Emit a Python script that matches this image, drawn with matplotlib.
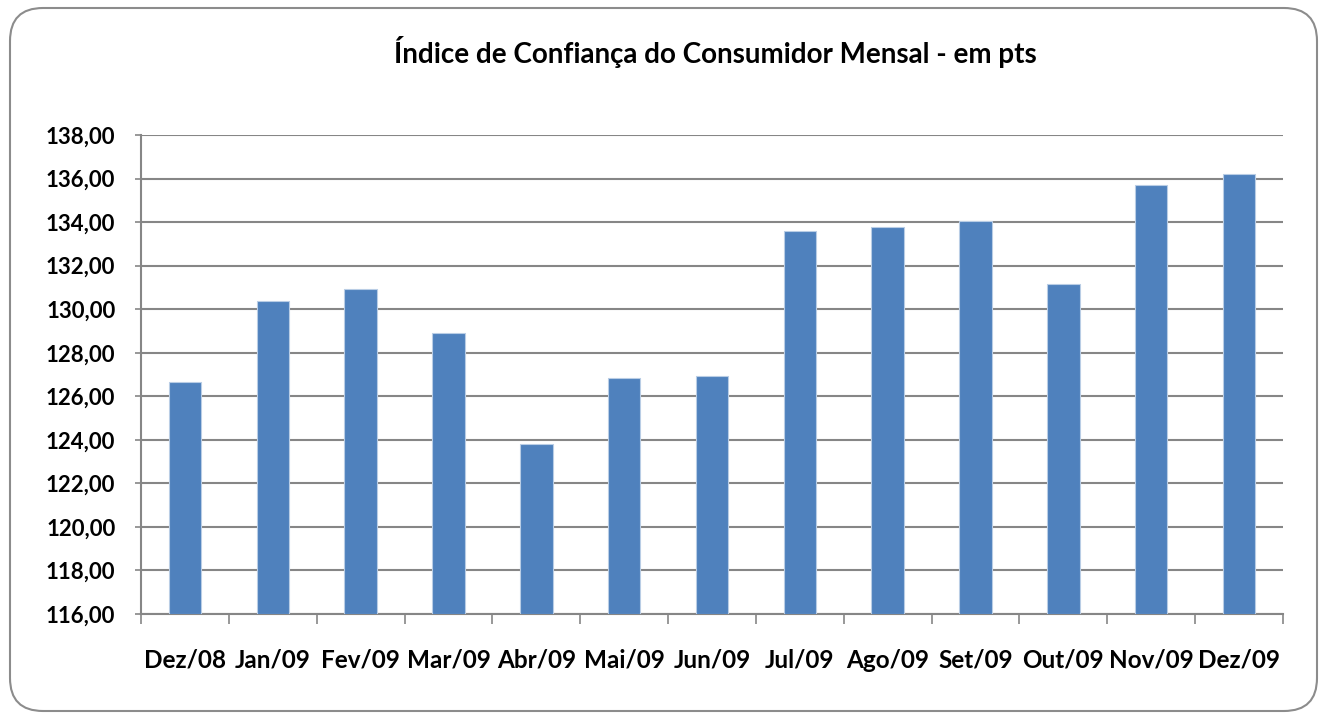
import matplotlib
matplotlib.use("Agg")
import matplotlib.pyplot as plt
from matplotlib.patches import FancyBboxPatch
import numpy as np

categories = ["Dez/08", "Jan/09", "Fev/09", "Mar/09", "Abr/09", "Mai/09", "Jun/09",
              "Jul/09", "Ago/09", "Set/09", "Out/09", "Nov/09", "Dez/09"]
values = [126.66, 130.37, 130.91, 128.90, 123.80, 126.83, 126.92,
          133.60, 133.77, 134.03, 131.17, 135.69, 136.20]
y_ticks = [116, 118, 120, 122, 124, 126, 128, 130, 132, 134, 136, 138]
title = "Índice de Confiança do Consumidor Mensal - em pts"

plt.rcParams['font.family'] = ['Lato', 'DejaVu Sans']

W, H = 1320, 713
fig = plt.figure(figsize=(W / 100, H / 100), dpi=100)

# rounded chart border
border = FancyBboxPatch((10 / W, 2 / H), (1307 / W), (703 / H),
                        boxstyle="round,pad=0,rounding_size=0.025",
                        transform=fig.transFigure, facecolor="white",
                        edgecolor="#8c8c8c", linewidth=1.5, mutation_aspect=W / H,
                        zorder=-10)
fig.patches.append(border)

left, right, top, bottom = 141, 1283, 135, 614
ax = fig.add_axes([left / W, (H - bottom) / H, (right - left) / W, (bottom - top) / H])
ax.set_facecolor("none")

x = np.arange(len(categories))
ax.bar(x, [v - y_ticks[0] for v in values], bottom=y_ticks[0], width=0.37,
       color="#4F81BD", edgecolor="#B9CDE5", linewidth=0.8, zorder=3)

ax.set_xlim(-0.5, len(categories) - 0.5)
ax.set_ylim(y_ticks[0], y_ticks[-1])
ax.set_yticks(y_ticks)
ax.set_yticklabels([f"{t:.2f}".replace(".", ",") for t in y_ticks],
                   fontsize=16, fontweight="bold")
ax.yaxis.grid(True, color="#868686", linewidth=1.5, zorder=0)
ax.set_axisbelow(True)
ax.tick_params(axis="y", length=4.5, width=1.2, color="#868686", pad=14)

# category boundary ticks
ax.set_xticks(np.arange(-0.5, len(categories), 1.0))
ax.set_xticklabels([])
ax.set_xticks(x, minor=True)
ax.set_xticklabels(categories, minor=True, fontsize=17.5, fontweight="bold")
ax.tick_params(axis="x", which="major", length=7, width=1.2, color="#868686", direction="out")
ax.tick_params(axis="x", which="minor", length=0, pad=25)

for s in ["top", "right"]:
    ax.spines[s].set_visible(False)
for s in ["left", "bottom"]:
    ax.spines[s].set_color("#868686")
    ax.spines[s].set_linewidth(1.5)

fig.text(715 / W, 1 - 52 / H, title, ha="center", va="center",
         fontsize=20, fontweight="bold")

fig.savefig("out.png", dpi=100)
